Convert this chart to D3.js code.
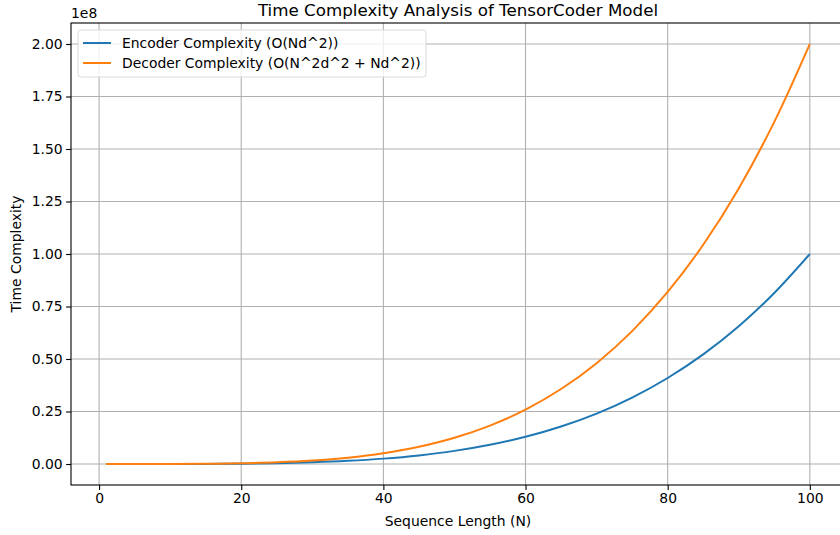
<!DOCTYPE html>
<html>
<head>
<meta charset="utf-8">
<script src="https://cdn.jsdelivr.net/npm/d3@7"></script>
<style>
  body { margin: 0; background: #fff; }
  svg { font-family: "DejaVu Sans", sans-serif; display: block; }
</style>
</head>
<body>
<svg id="chart" width="840" height="535"></svg>
<script>
// sequence lengths sampled along the x axis
const seqLength = [1, 5, 10, 15, 20, 25, 30, 35, 40, 45, 50, 55, 60, 65, 70, 75, 80, 85, 90, 95, 100];
// values, in units of 1e8
const encoder = [0, 0.0000, 0.0001, 0.0005, 0.0016, 0.0039, 0.0081, 0.0150, 0.0256, 0.0410, 0.0625,
  0.0915, 0.1296, 0.1785, 0.2401, 0.3164, 0.4096, 0.5220, 0.6561, 0.8145, 1.0000];
const decoder = [0, 0.0000, 0.0002, 0.0010, 0.0032, 0.0078, 0.0162, 0.0300, 0.0512, 0.0820, 0.1250,
  0.1830, 0.2592, 0.3570, 0.4802, 0.6328, 0.8192, 1.0440, 1.3122, 1.6290, 2.0000];
const xTicks = [0, 20, 40, 60, 80, 100];
const yTicks = [0, 0.25, 0.5, 0.75, 1.0, 1.25, 1.5, 1.75, 2.0];
const seriesNames = ["Encoder Complexity (O(Nd^2))", "Decoder Complexity (O(N^2d^2 + Nd^2))"];
const colors = ["#1f77b4", "#ff7f0e"];

const margin = { left: 71, top: 23, right: -5, bottom: 50 };
const width = 840, height = 535;
const fs = 13.9;

const svg = d3.select("#chart");

const x = d3.scaleLinear().domain([-3.95, 104.95]).range([margin.left, width - margin.right]);
const y = d3.scaleLinear().domain([-0.1, 2.1]).range([height - margin.bottom, margin.top]);

const plot = svg.append("g");

// grid
plot.append("g").selectAll("line").data(xTicks).enter().append("line")
  .attr("x1", d => x(d)).attr("x2", d => x(d))
  .attr("y1", y.range()[0]).attr("y2", y.range()[1])
  .attr("stroke", "#b0b0b0").attr("stroke-width", 1.1);
plot.append("g").selectAll("line").data(yTicks).enter().append("line")
  .attr("x1", x.range()[0]).attr("x2", x.range()[1])
  .attr("y1", d => y(d)).attr("y2", d => y(d))
  .attr("stroke", "#b0b0b0").attr("stroke-width", 1.1);

// lines
const series = [encoder, decoder];
const line = d3.line()
  .x((d, i) => x(seqLength[i]))
  .y(d => y(d))
  .curve(d3.curveMonotoneX);

series.forEach((s, k) => {
  plot.append("path")
    .datum(s)
    .attr("fill", "none")
    .attr("stroke", colors[k])
    .attr("stroke-width", 2)
    .attr("d", line);
});

// axes
const xAxis = svg.append("g")
  .attr("transform", `translate(0,${y.range()[0]})`)
  .call(d3.axisBottom(x).tickValues(xTicks).tickSize(4.9).tickPadding(3.5).tickFormat(d3.format("d")));
const yAxis = svg.append("g")
  .attr("transform", `translate(${x.range()[0]},0)`)
  .call(d3.axisLeft(y).tickValues(yTicks).tickSize(4.9).tickPadding(3.5).tickFormat(d3.format(".2f")));

[xAxis, yAxis].forEach(a => {
  a.selectAll("text").attr("font-size", fs).attr("fill", "#000").attr("font-family", "DejaVu Sans");
  a.selectAll(".tick line").attr("stroke", "#000").attr("stroke-width", 1.1);
  a.select(".domain").remove();
});

// frame
svg.append("rect")
  .attr("x", x.range()[0]).attr("y", y.range()[1])
  .attr("width", x.range()[1] - x.range()[0])
  .attr("height", y.range()[0] - y.range()[1])
  .attr("fill", "none").attr("stroke", "#000").attr("stroke-width", 1.1);

// offset text
svg.append("text")
  .attr("x", x.range()[0]).attr("y", 18)
  .attr("font-size", fs).text("1e8");

// title & labels
const cx = (x.range()[0] + x.range()[1]) / 2;
svg.append("text")
  .attr("x", cx).attr("y", 16)
  .attr("text-anchor", "middle").attr("font-size", 16.7)
  .text("Time Complexity Analysis of TensorCoder Model");
svg.append("text")
  .attr("x", cx).attr("y", 526)
  .attr("text-anchor", "middle").attr("font-size", fs)
  .text("Sequence Length (N)");
svg.append("text")
  .attr("transform", `translate(21,${(y.range()[0] + y.range()[1]) / 2}) rotate(-90)`)
  .attr("text-anchor", "middle").attr("font-size", fs)
  .text("Time Complexity");

// legend
const legend = svg.append("g").attr("transform", "translate(78,30)");
legend.append("rect")
  .attr("width", 348).attr("height", 47).attr("rx", 3)
  .attr("fill", "#fff").attr("fill-opacity", 0.8)
  .attr("stroke", "#d9d9d9").attr("stroke-width", 1);
seriesNames.forEach((name, i) => {
  const g = legend.append("g").attr("transform", `translate(0,${13 + i * 20})`);
  g.append("line").attr("x1", 5).attr("x2", 33).attr("stroke", colors[i]).attr("stroke-width", 2);
  g.append("text").attr("x", 44).attr("y", 4.5).attr("font-size", fs).text(name);
});
</script>
</body>
</html>
